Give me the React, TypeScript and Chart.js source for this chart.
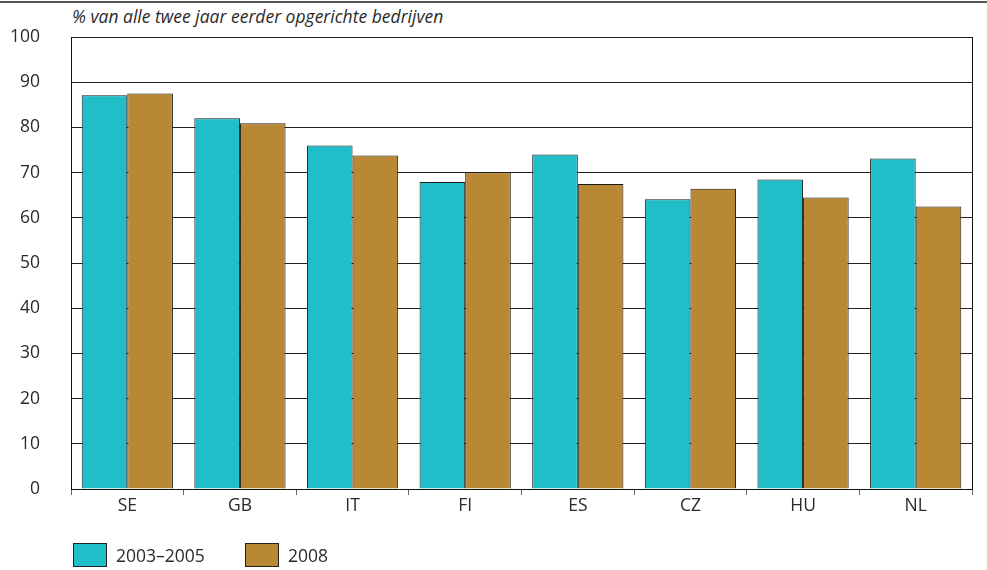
import React, { useEffect, useRef } from "react";
import { Chart, registerables } from "chart.js";

Chart.register(...registerables);

const categories = ["SE", "GB", "IT", "FI", "ES", "CZ", "HU", "NL"];
const series1Label = "2003–2005";
const series2Label = "2008";
const series1 = [87.1, 82.0, 76.0, 67.9, 74.0, 64.1, 68.5, 73.1];
const series2 = [87.5, 80.9, 73.8, 70.1, 67.5, 66.4, 64.5, 62.5];
const yTicks = [0, 10, 20, 30, 40, 50, 60, 70, 80, 90, 100];
const axisTitle = "% van alle twee jaar eerder opgerichte bedrijven";

const CYAN = "#20bec8";
const BROWN = "#b98834";
const FONT = "'Open Sans', 'Noto Sans', sans-serif";
const TEXT = "#2a2a2a";

const rightBorder = {
  id: "rightBorder",
  afterDraw(chart: any) {
    const { ctx, chartArea } = chart;
    ctx.save();
    ctx.strokeStyle = "#111";
    ctx.lineWidth = 1;
    ctx.beginPath();
    ctx.moveTo(Math.round(chartArea.right) + 0.5, chartArea.top);
    ctx.lineTo(Math.round(chartArea.right) + 0.5, chartArea.bottom);
    ctx.stroke();
    ctx.restore();
  },
};

export default function App() {
  const ref = useRef<HTMLCanvasElement | null>(null);

  useEffect(() => {
    if (!ref.current) return;
    const chart = new Chart(ref.current, {
      type: "bar",
      data: {
        labels: categories,
        datasets: [
          {
            label: series1Label,
            data: series1,
            backgroundColor: CYAN,
            borderColor: "#1a1a1a",
            borderWidth: 1,
            barPercentage: 1.0,
            categoryPercentage: 0.81,
          },
          {
            label: series2Label,
            data: series2,
            backgroundColor: BROWN,
            borderColor: "#1a1a1a",
            borderWidth: 1,
            barPercentage: 1.0,
            categoryPercentage: 0.81,
          },
        ],
      },
      options: {
        animation: false,
        responsive: false,
        maintainAspectRatio: false,
        layout: { padding: { top: 37, right: 15, bottom: 0, left: 0 } },
        plugins: {
          legend: { display: false },
          title: { display: false },
          tooltip: { enabled: false },
        },
        scales: {
          x: {
            offset: true,
            grid: {
              offset: true,
              drawOnChartArea: false,
              drawTicks: true,
              tickLength: 6,
              tickColor: "#666",
            },
            border: { display: true, color: "#111", width: 1 },
            ticks: {
              padding: 1,
              color: TEXT,
              font: { family: FONT, size: 17.5 },
            },
            afterFit(scale: any) {
              scale.height = 81;
            },
          },
          y: {
            min: 0,
            max: 100,
            afterBuildTicks(scale: any) {
              scale.ticks = yTicks.map((v) => ({ value: v }));
            },
            grid: {
              color: "#222",
              lineWidth: 1,
              drawTicks: true,
              tickLength: 31,
              tickColor: "rgba(0,0,0,0)",
            },
            border: { display: true, color: "#111", width: 1 },
            ticks: {
              padding: 0,
              color: TEXT,
              font: { family: FONT, size: 17.5 },
            },
            afterFit(scale: any) {
              scale.width = 71;
            },
          },
        },
      },
      plugins: [rightBorder],
    });
    return () => chart.destroy();
  }, []);

  return (
    <div style={{ position: "fixed", left: 0, top: 0, width: 987, height: 570, background: "#fff", fontFamily: FONT }}>
      <div style={{ position: "absolute", left: 0, top: 1, width: 987, height: 2, background: "#555" }} />
      <div
        style={{
          position: "absolute",
          left: 72,
          top: 4,
          fontSize: 17.5,
          fontStyle: "italic",
          color: TEXT,
          whiteSpace: "nowrap",
        }}
      >
        {axisTitle}
      </div>
      <canvas ref={ref} width={987} height={570} style={{ position: "absolute", left: 0, top: 0 }} />
      <div style={{ position: "absolute", left: 73, top: 543, display: "flex", alignItems: "center", fontSize: 17.5, color: TEXT }}>
        <div style={{ width: 32, height: 22, background: CYAN, border: "1px solid #222" }} />
        <span style={{ marginLeft: 9 }}>{series1Label}</span>
      </div>
      <div style={{ position: "absolute", left: 245, top: 543, display: "flex", alignItems: "center", fontSize: 17.5, color: TEXT }}>
        <div style={{ width: 32, height: 22, background: BROWN, border: "1px solid #222" }} />
        <span style={{ marginLeft: 9 }}>{series2Label}</span>
      </div>
    </div>
  );
}
